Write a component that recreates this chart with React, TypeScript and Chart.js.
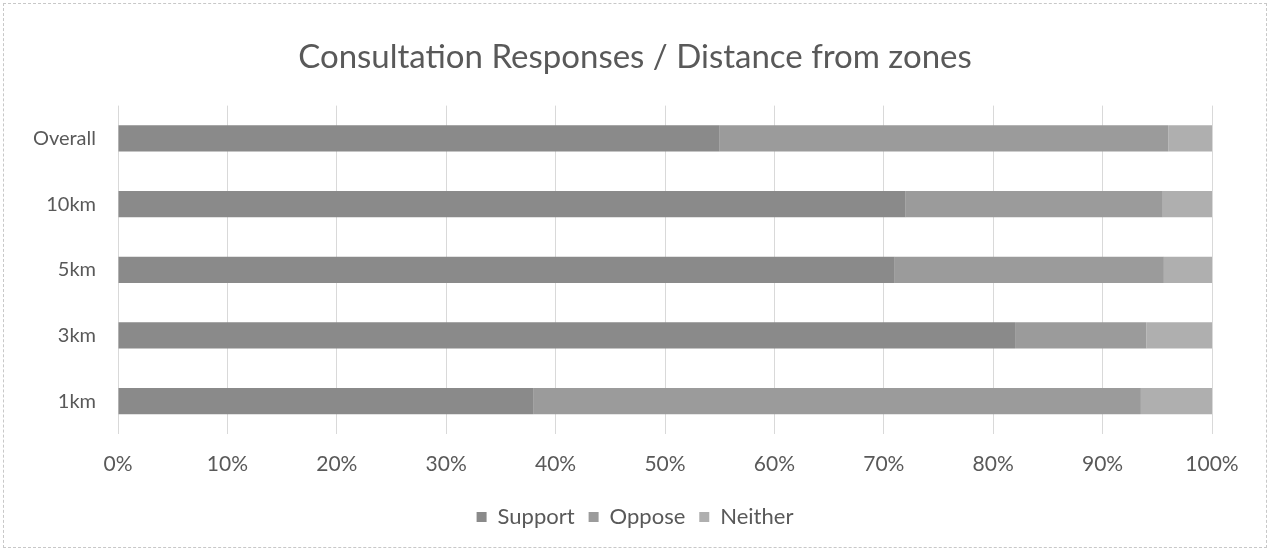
import React, { useEffect, useRef } from "react";
import { Chart, registerables } from "chart.js";

Chart.register(...registerables);

const categories = ["Overall", "10km", "5km", "3km", "1km"];
const supportValues = [55, 72, 71, 82, 38];
const opposeValues = [41, 23.5, 24.6, 12, 55.5];
const neitherValues = [4, 4.5, 4.4, 6, 6.5];
const xTicks = [0, 10, 20, 30, 40, 50, 60, 70, 80, 90, 100];
const titleText = "Consultation Responses / Distance from zones";

export default function App() {
  const ref = useRef<HTMLCanvasElement | null>(null);

  useEffect(() => {
    document.body.style.margin = "0";
    const canvas = ref.current;
    if (!canvas) return;
    const font = "Lato, 'Liberation Sans', sans-serif";
    const chart = new Chart(canvas, {
      type: "bar",
      data: {
        labels: categories,
        datasets: [
          { label: "Support", data: supportValues, backgroundColor: "#8a8a8a", borderWidth: 0 },
          { label: "Oppose", data: opposeValues, backgroundColor: "#9b9b9b", borderWidth: 0 },
          { label: "Neither", data: neitherValues, backgroundColor: "#afafaf", borderWidth: 0 },
        ],
      },
      options: {
        indexAxis: "y",
        responsive: false,
        animation: false,
        layout: { padding: { left: 0, right: 0, top: 0, bottom: 14 } },
        datasets: { bar: { categoryPercentage: 0.4, barPercentage: 1 } },
        scales: {
          x: {
            stacked: true,
            min: 0,
            max: 100,
            afterBuildTicks: (axis: any) => {
              axis.ticks = xTicks.map((v) => ({ value: v }));
            },
            afterFit: (axis: any) => {
              axis.height = 58;
            },
            ticks: {
              callback: (v: any) => v + "%",
              color: "#595959",
              font: { family: font, size: 21 },
              padding: 18,
              maxRotation: 0,
            },
            grid: { color: "#d9d9d9", drawTicks: false },
            border: { display: false },
          },
          y: {
            stacked: true,
            afterFit: (axis: any) => {
              axis.width = 118;
            },
            ticks: {
              color: "#595959",
              font: { family: font, size: 20 },
              padding: 22,
            },
            grid: { display: false, drawTicks: false },
            border: { display: false },
          },
          yRight: {
            axis: "y",
            type: "linear",
            position: "right",
            display: true,
            afterFit: (axis: any) => {
              axis.width = 58;
            },
            ticks: { display: false },
            grid: { display: false, drawTicks: false },
            border: { display: false },
          },
        },
        plugins: {
          title: {
            display: true,
            text: titleText,
            color: "#595959",
            font: { family: font, size: 33, weight: "normal" },
            padding: { top: 38, bottom: 28 },
          },
          legend: {
            position: "bottom",
            labels: {
              color: "#595959",
              font: { family: font, size: 22 },
              boxWidth: 10,
              boxHeight: 10,
              padding: 14,
            },
          },
          tooltip: { enabled: false },
        },
      },
    });
    return () => chart.destroy();
  }, []);

  return (
    <div style={{ position: "relative", width: 1270, height: 552, background: "#fff" }}>
      <div
        style={{
          position: "absolute",
          left: 3,
          top: 3,
          width: 1264,
          height: 545,
          border: "1px dashed #c8c8c8",
          boxSizing: "border-box",
          pointerEvents: "none",
        }}
      />
      <canvas ref={ref} width={1270} height={552} style={{ display: "block" }} />
    </div>
  );
}
